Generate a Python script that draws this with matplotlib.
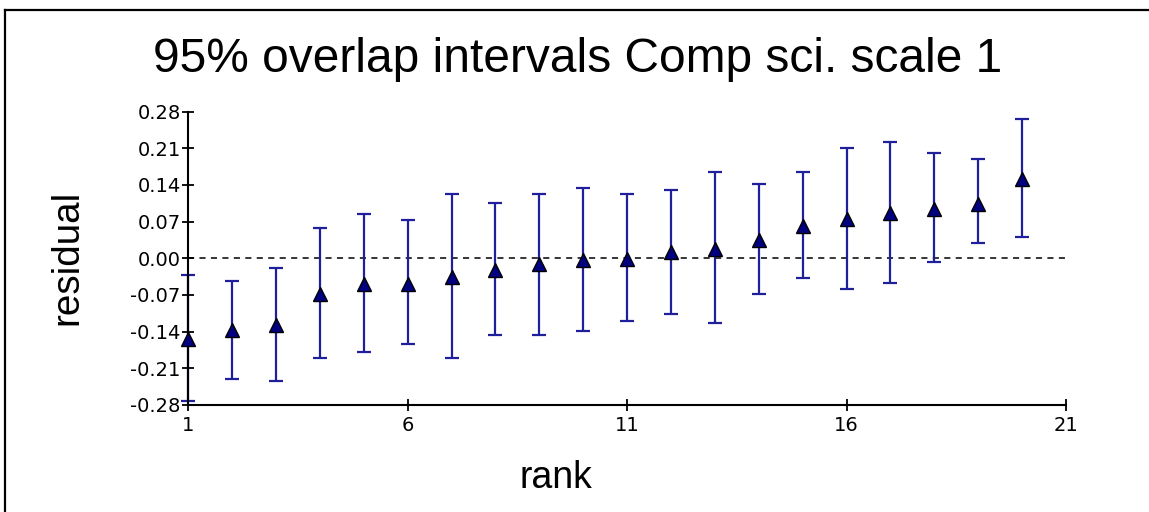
import numpy as np
import matplotlib
matplotlib.use("Agg")
import matplotlib.pyplot as plt
from matplotlib.lines import Line2D

# rank order and estimated residuals with their 95% overlap interval ends
rank = list(range(1, 21))
residual = [-0.155, -0.137, -0.127, -0.069, -0.050, -0.049, -0.035, -0.022,
            -0.011, -0.003, -0.001, 0.011, 0.018, 0.035, 0.062, 0.074,
            0.086, 0.094, 0.104, 0.151]
upper = [-0.032, -0.043, -0.018, 0.058, 0.084, 0.073, 0.123, 0.105,
         0.123, 0.134, 0.123, 0.131, 0.165, 0.142, 0.165, 0.211,
         0.222, 0.200, 0.190, 0.266]
lower = [-0.272, -0.230, -0.234, -0.190, -0.178, -0.164, -0.190, -0.146,
         -0.146, -0.139, -0.120, -0.106, -0.124, -0.069, -0.037, -0.059,
         -0.048, -0.008, 0.029, 0.040]

xticks = [1, 6, 11, 16, 21]
yticks = [-0.28, -0.21, -0.14, -0.07, 0.00, 0.07, 0.14, 0.21, 0.28]

W, H = 1149, 512
fig = plt.figure(figsize=(W / 100, H / 100), dpi=100)
ax = fig.add_axes([188.3 / W, 1 - 405 / H, (1066 - 188.3) / W, (405 - 111.5) / H])

res = np.array(residual)
yerr = [res - np.array(lower), np.array(upper) - res]

ax.axhline(0, color="black", lw=1.1, ls=(0, (4, 3.5)), zorder=1)
eb = ax.errorbar(rank, residual, yerr=yerr, fmt="none", ecolor="#1f1f9c",
                 elinewidth=1.6, capsize=4.8, capthick=1.6, zorder=2)
for art in eb.lines[1] + eb.lines[2]:
    art.set_clip_on(False)
ax.plot(rank, residual, ls="none", marker="^", ms=10, mfc="#000080",
        mec="black", mew=1.0, zorder=3, clip_on=False)

ax.set_xlim(1, 21)
ax.set_ylim(-0.28, 0.28)
ax.set_xticks(xticks)
ax.set_yticks(yticks)
ax.set_yticklabels(["%.2f" % v for v in yticks])
for s in ["top", "right"]:
    ax.spines[s].set_visible(False)
for s in ["left", "bottom"]:
    ax.spines[s].set_linewidth(1.5)
ax.tick_params(direction="inout", length=8, width=1.3, labelsize=14, pad=1.5)
ax.tick_params(axis="x", pad=4)

fig.text(577.5 / W, 1 - 72 / H, "95% overlap intervals Comp sci. scale 1",
         family="Liberation Sans", fontsize=34.5, ha="center", va="baseline")
fig.text(556 / W, 1 - 488 / H, "rank", family="Liberation Sans",
         fontsize=27, ha="center", va="baseline")
fig.text(67 / W, 254.5 / H, "residual", family="Liberation Sans",
         fontsize=27.8, ha="center", va="center", rotation=90)

# frame lines along the top and left edges
fig.add_artist(Line2D([4.5 / W, 4.5 / W], [0, 1 - 9.5 / H], color="black", lw=1.6))
fig.add_artist(Line2D([4.5 / W, 1], [1 - 9.5 / H, 1 - 9.5 / H], color="black", lw=1.6))

fig.savefig("out.png", dpi=100)
